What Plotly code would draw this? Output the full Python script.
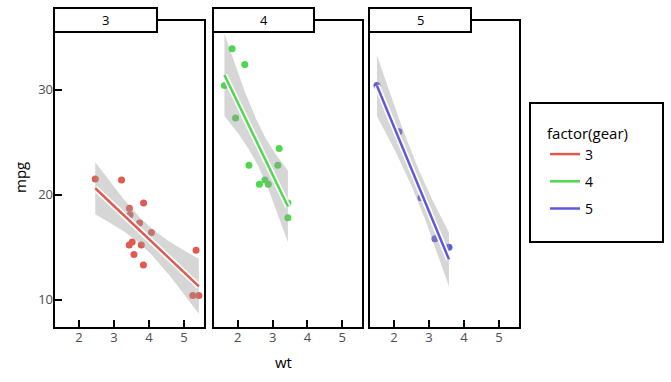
import numpy as np
import plotly.graph_objects as go

# mtcars: wt and mpg by gear
wt_g3 = [3.215, 3.440, 3.460, 3.570, 4.070, 3.730, 3.780, 5.250, 5.424, 5.345, 2.465, 3.520, 3.435, 3.840, 3.845]
mpg_g3 = [21.4, 18.7, 18.1, 14.3, 16.4, 17.3, 15.2, 10.4, 10.4, 14.7, 21.5, 15.5, 15.2, 13.3, 19.2]
wt_g4 = [2.620, 2.875, 2.320, 3.190, 3.150, 3.440, 3.440, 2.200, 1.615, 1.835, 1.935, 2.780]
mpg_g4 = [21.0, 21.0, 22.8, 24.4, 22.8, 19.2, 17.8, 32.4, 30.4, 33.9, 27.3, 21.4]
wt_g5 = [2.140, 1.513, 3.170, 2.770, 3.570]
mpg_g5 = [26.0, 30.4, 15.8, 19.7, 15.0]

gears = ["3", "4", "5"]
colors = ["#E15A50", "#4FD84F", "#6059D9"]
t_quant = [2.1604, 2.2281, 3.1824]  # 97.5% t quantiles, df = n-2
x_ticks = [2, 3, 4, 5]
y_ticks = [10, 20, 30]

W, H = 671, 382
panels_px = [(54, 205), (213, 363), (369, 520)]
strip_right = [157, 314, 471]
top_px, bot_px, frame_top = 32, 328, 20

def px(x):
    return x / W

def py(y):
    return 1 - y / H

fig = go.Figure()
data = [(wt_g3, mpg_g3), (wt_g4, mpg_g4), (wt_g5, mpg_g5)]
for i, ((xs, ys), g, c, tq) in enumerate(zip(data, gears, colors, t_quant)):
    xa = "x" if i == 0 else f"x{i+1}"
    ya = "y" if i == 0 else f"y{i+1}"
    x = np.array(xs)
    y = np.array(ys)
    n = len(x)
    b1, b0 = np.polyfit(x, y, 1)
    resid = y - (b0 + b1 * x)
    s = np.sqrt(np.sum(resid ** 2) / (n - 2))
    sxx = np.sum((x - x.mean()) ** 2)
    xg = np.linspace(x.min(), x.max(), 80)
    yg = b0 + b1 * xg
    se = s * np.sqrt(1 / n + (xg - x.mean()) ** 2 / sxx)
    lo, hi = yg - tq * se, yg + tq * se
    fig.add_trace(go.Scatter(x=xs, y=ys, mode="markers", xaxis=xa, yaxis=ya,
                             marker=dict(color=c, size=7), showlegend=False, hoverinfo="skip"))
    fig.add_trace(go.Scatter(x=np.concatenate([xg, xg[::-1]]), y=np.concatenate([hi, lo[::-1]]),
                             fill="toself", fillcolor="rgba(153,153,153,0.4)", line=dict(width=0),
                             mode="lines", xaxis=xa, yaxis=ya, showlegend=False, hoverinfo="skip"))
    fig.add_trace(go.Scatter(x=xg, y=yg, mode="lines", xaxis=xa, yaxis=ya,
                             line=dict(color="white", width=6), showlegend=False, hoverinfo="skip"))
    fig.add_trace(go.Scatter(x=xg, y=yg, mode="lines", xaxis=xa, yaxis=ya, name=g,
                             legendgroup=g, line=dict(color=c, width=2.5), showlegend=True))

FONT = "Open Sans"
layout = dict(width=W, height=H, margin=dict(l=0, r=0, t=0, b=0),
              plot_bgcolor="white", paper_bgcolor="white",
              font=dict(family=FONT, color="black"))
for i, (l, r) in enumerate(panels_px):
    key = "xaxis" if i == 0 else f"xaxis{i+1}"
    ykey = "yaxis" if i == 0 else f"yaxis{i+1}"
    layout[key] = dict(domain=[px(l), px(r)], range=[1.286, 5.6], tickvals=x_ticks,
                       ticks="inside", ticklen=8, tickwidth=2, tickcolor="black",
                       showgrid=False, zeroline=False, showline=False,
                       tickfont=dict(size=13, color="#4d4d4d", family=FONT),
                       anchor="y" if i == 0 else f"y{i+1}")
    layout[ykey] = dict(domain=[py(bot_px), py(top_px)], range=[7.3, 35.5], tickvals=y_ticks,
                        ticks="inside" if i == 0 else "", ticklen=8, tickwidth=2, tickcolor="black",
                        showticklabels=(i == 0), showgrid=False, zeroline=False, showline=False,
                        tickfont=dict(size=13, color="#4d4d4d", family=FONT),
                        anchor="x" if i == 0 else f"x{i+1}")
fig.update_layout(**layout)

shapes = []
annotations = []
for i, (l, r) in enumerate(panels_px):
    shapes.append(dict(type="rect", xref="paper", yref="paper", x0=px(l), x1=px(r),
                       y0=py(bot_px), y1=py(frame_top), line=dict(color="black", width=2)))
    shapes.append(dict(type="rect", xref="paper", yref="paper", x0=px(l), x1=px(strip_right[i]),
                       y0=py(top_px), y1=py(8), line=dict(color="black", width=2), fillcolor="white"))
    annotations.append(dict(xref="paper", yref="paper", x=px((l + strip_right[i]) / 2), y=py(20),
                            xanchor="center", yanchor="middle",
                            text=gears[i], showarrow=False, font=dict(size=13, color="black")))
shapes.append(dict(type="rect", xref="paper", yref="paper", x0=px(530), x1=px(663),
                   y0=py(242), y1=py(103), line=dict(color="black", width=2), fillcolor="white",
                   layer="below"))
annotations.append(dict(xref="paper", yref="paper", x=px(20), y=py(178), text="mpg",
                        xanchor="center", yanchor="middle",
                        textangle=-90, showarrow=False, font=dict(size=15, color="black")))
annotations.append(dict(xref="paper", yref="paper", x=px(283), y=py(362), text="wt",
                        xanchor="center", yanchor="middle",
                        showarrow=False, font=dict(size=15, color="black")))
fig.update_layout(shapes=shapes, annotations=annotations,
                  legend=dict(title=dict(text="factor(gear)", font=dict(size=15, color="black")),
                              x=px(545), y=py(119), xanchor="left", yanchor="top",
                              bgcolor="rgba(0,0,0,0)", borderwidth=0,
                              font=dict(size=14, color="black"), tracegroupgap=6,
                              itemwidth=30))

fig.write_html("out.html", config={"displayModeBar": False},
               post_script="document.body.style.margin='0';")
